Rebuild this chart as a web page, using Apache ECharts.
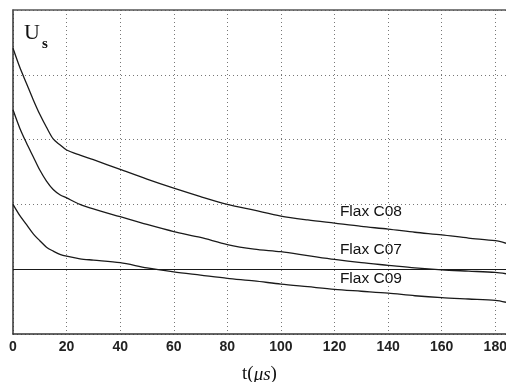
<!DOCTYPE html>
<html>
<head>
<meta charset="utf-8">
<script src="https://cdn.jsdelivr.net/npm/echarts@6/dist/echarts.min.js"></script>
<style>
  html, body { margin: 0; padding: 0; background: #fff; }
  #chart { width: 506px; height: 382px; }
</style>
</head>
<body>
<div id="chart"></div>
<script>
// time axis (µs)
const times = [0, 2.5, 5, 7.5, 10, 12.5, 15, 17.5, 20, 25, 30, 40, 50, 60, 70, 80, 90, 100, 110, 120, 130, 140, 150, 160, 170, 180, 184];

// U_s per specimen (arbitrary units, grid step = 1)
const flaxC08 = [4.41, 4.12, 3.87, 3.62, 3.39, 3.19, 3.01, 2.92, 2.84, 2.76, 2.69, 2.54, 2.39, 2.25, 2.12, 2.0, 1.91, 1.82, 1.76, 1.71, 1.66, 1.62, 1.57, 1.53, 1.48, 1.44, 1.40];
const flaxC07 = [3.46, 3.18, 2.95, 2.74, 2.53, 2.36, 2.23, 2.15, 2.10, 2.00, 1.93, 1.81, 1.69, 1.58, 1.49, 1.38, 1.31, 1.27, 1.21, 1.15, 1.10, 1.06, 1.02, 0.99, 0.97, 0.95, 0.93];
const flaxC09 = [2.0, 1.83, 1.69, 1.55, 1.44, 1.34, 1.28, 1.23, 1.20, 1.16, 1.14, 1.10, 1.02, 0.96, 0.91, 0.86, 0.82, 0.77, 0.73, 0.69, 0.66, 0.63, 0.59, 0.56, 0.54, 0.52, 0.49];

const seriesNames = ['Flax C08', 'Flax C07', 'Flax C09'];
// where each name sits on the chart, in data units [t, U]
const labelAnchors = [[122, 1.89], [122, 1.30], [122, 0.86]];
const refLevel = 1;
const tMax = 184;

const chart = echarts.init(document.getElementById('chart'));

const pair = vals => times.map((t, i) => [t, vals[i]]);
const allValues = [flaxC08, flaxC07, flaxC09];

const series = allValues.map((vals, i) => ({
  name: seriesNames[i],
  type: 'line',
  data: pair(vals),
  smooth: 0.3,
  symbol: 'none',
  lineStyle: { color: '#1a1a1a', width: 1.3 },
  markPoint: {
    symbol: 'circle',
    symbolSize: 0,
    silent: true,
    data: [{ coord: labelAnchors[i] }],
    label: {
      show: true,
      position: 'right',
      distance: 0,
      formatter: seriesNames[i],
      color: '#111',
      fontFamily: 'Liberation Sans',
      fontSize: 15.5
    }
  },
  markLine: i === 0 ? {
    silent: true,
    symbol: 'none',
    label: { show: false },
    lineStyle: { color: '#1a1a1a', type: 'solid', width: 1.2 },
    data: [{ yAxis: refLevel }]
  } : undefined
}));

const dotted = { show: true, lineStyle: { color: '#777', type: [1, 3], width: 1 } };

const option = {
  animation: false,
  backgroundColor: '#fff',
  title: {
    left: 19,
    top: 17,
    text: '{u|U}{s|s}',
    textStyle: {
      rich: {
        u: { fontFamily: 'Liberation Serif', fontSize: 22, fontWeight: 'normal', color: '#111', lineHeight: 30, verticalAlign: 'top' },
        s: { fontFamily: 'Liberation Serif', fontSize: 15, fontWeight: 'bold', color: '#111', lineHeight: 12, verticalAlign: 'bottom', padding: [0, 0, 0, 2] }
      }
    }
  },
  grid: {
    left: 13,
    top: 10,
    bottom: 48,
    right: 0,
    outerBoundsMode: 'none'
  },
  xAxis: [{
    type: 'value',
    min: 0,
    max: tMax,
    interval: 20,
    name: '{a|t(}{b|μs}{a|)}',
    nameLocation: 'middle',
    nameGap: 31,
    nameTextStyle: {
      rich: {
        a: { fontFamily: 'Liberation Serif', fontSize: 19, color: '#111' },
        b: { fontFamily: 'Liberation Serif', fontSize: 19, fontStyle: 'italic', color: '#111' }
      }
    },
    axisLine: { show: true, lineStyle: { color: '#333', width: 1.5 } },
    axisTick: { show: false },
    axisLabel: {
      margin: 6,
      color: '#222',
      fontFamily: 'Liberation Sans',
      fontWeight: 'bold',
      fontSize: 14,
      formatter: v => (v % 20 === 0 ? String(v) : '')
    },
    splitLine: dotted
  }, {
    type: 'value',
    position: 'top',
    min: 0,
    max: tMax,
    axisLine: { show: true, onZero: false, lineStyle: { color: '#555', width: 1.5 } },
    axisTick: { show: false },
    axisLabel: { show: false },
    splitLine: { show: false }
  }],
  yAxis: {
    type: 'value',
    min: 0,
    max: 5,
    interval: 1,
    axisLine: { show: true, lineStyle: { color: '#333', width: 1.5 } },
    axisTick: { show: false },
    axisLabel: { show: false },
    splitLine: dotted
  },
  series: series
};

chart.setOption(option);
</script>
</body>
</html>
